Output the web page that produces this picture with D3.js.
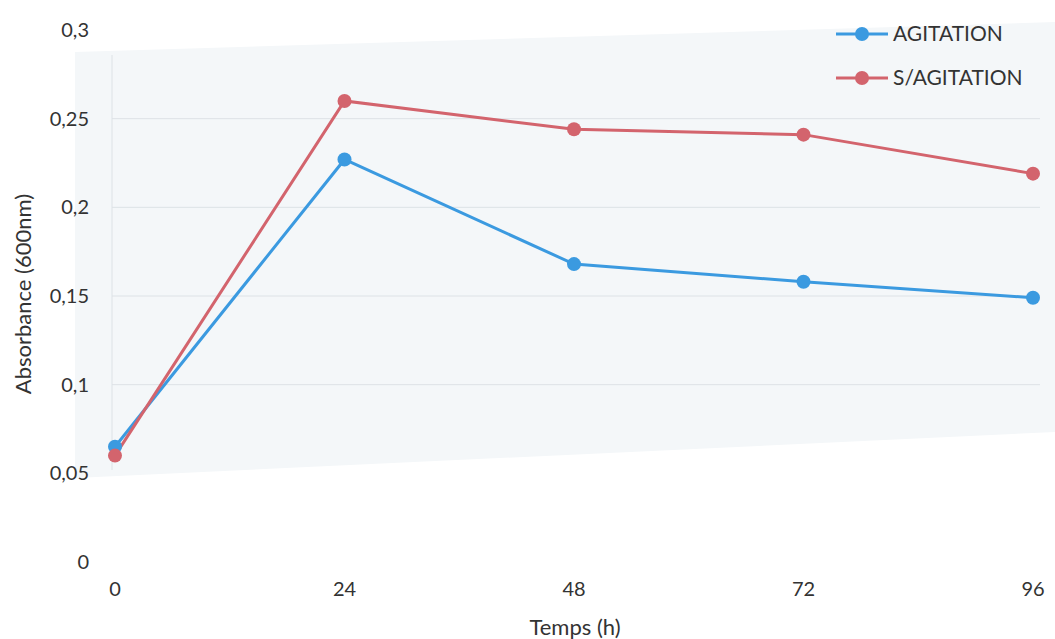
<!DOCTYPE html>
<html>
<head>
<meta charset="utf-8">
<script src="https://cdn.jsdelivr.net/npm/d3@7"></script>
<style>
  body { margin: 0; background: #fff; }
  text { font-family: Lato, "Open Sans", sans-serif; fill: #333; }
</style>
</head>
<body>
<script>
var hours = [0, 24, 48, 72, 96];
var agitation = [0.065, 0.227, 0.168, 0.158, 0.149];
var sansAgitation = [0.060, 0.260, 0.244, 0.241, 0.219];
var yTicks = [0, 0.05, 0.1, 0.15, 0.2, 0.25, 0.3];
var gridTicks = [0.1, 0.15, 0.2, 0.25];
var seriesNames = ["AGITATION", "S/AGITATION"];
var seriesColors = ["#3b9ae0", "#d3646d"];

var width = 1055, height = 639;
var svg = d3.select("body").append("svg")
  .attr("width", width)
  .attr("height", height);

var x = d3.scaleLinear().domain([0, 96]).range([115, 1033]);
var y = d3.scaleLinear().domain([0, 0.3]).range([562, 30]);

// pale scanned background area (slightly skewed like the scan)
svg.append("polygon")
  .attr("points", "75,52 1055,22 1055,432 75,478")
  .attr("fill", "#f4f7f9");

// gridlines
svg.selectAll(".grid")
  .data(gridTicks)
  .enter().append("line")
  .attr("class", "grid")
  .attr("x1", 112).attr("x2", 1040)
  .attr("y1", function(d) { return y(d); })
  .attr("y2", function(d) { return y(d); })
  .attr("stroke", "#dde2e6")
  .attr("stroke-width", 1);

svg.append("line")
  .attr("x1", 112).attr("x2", 112)
  .attr("y1", 55).attr("y2", 470)
  .attr("stroke", "#dde2e6");

// y tick labels
svg.selectAll(".ytick")
  .data(yTicks)
  .enter().append("text")
  .attr("class", "ytick")
  .attr("x", 89)
  .attr("y", function(d) { return y(d); })
  .attr("dy", "0.35em")
  .attr("text-anchor", "end")
  .style("font-size", "20px")
  .text(function(d) { return String(d).replace(".", ","); });

// x tick labels
svg.selectAll(".xtick")
  .data(hours)
  .enter().append("text")
  .attr("class", "xtick")
  .attr("x", function(d) { return x(d); })
  .attr("y", 596)
  .attr("text-anchor", "middle")
  .style("font-size", "20px")
  .text(function(d) { return d; });

// axis titles
svg.append("text")
  .attr("x", 575).attr("y", 635)
  .attr("text-anchor", "middle")
  .style("font-size", "22px")
  .text("Temps (h)");

svg.append("text")
  .attr("transform", "translate(31,294) rotate(-90)")
  .attr("text-anchor", "middle")
  .style("font-size", "22px")
  .text("Absorbance (600nm)");

// series
var allSeries = [agitation, sansAgitation];
var line = d3.line()
  .x(function(d, i) { return x(hours[i]); })
  .y(function(d) { return y(d); });

allSeries.forEach(function(values, s) {
  svg.append("path")
    .datum(values)
    .attr("d", line)
    .attr("fill", "none")
    .attr("stroke", seriesColors[s])
    .attr("stroke-width", 3);
});

// markers drawn after lines so red sits on top like the reference
allSeries.forEach(function(values, s) {
  svg.selectAll(".dot" + s)
    .data(values)
    .enter().append("circle")
    .attr("class", "dot" + s)
    .attr("cx", function(d, i) { return x(hours[i]); })
    .attr("cy", function(d) { return y(d); })
    .attr("r", 7)
    .attr("fill", seriesColors[s]);
});

// legend
var legend = svg.selectAll(".legend")
  .data(seriesNames)
  .enter().append("g")
  .attr("class", "legend")
  .attr("transform", function(d, i) { return "translate(836," + (34 + i * 44) + ")"; });

legend.append("line")
  .attr("x1", 0).attr("x2", 52)
  .attr("stroke", function(d, i) { return seriesColors[i]; })
  .attr("stroke-width", 3);

legend.append("circle")
  .attr("cx", 26).attr("r", 7)
  .attr("fill", function(d, i) { return seriesColors[i]; });

legend.append("text")
  .attr("x", 57)
  .attr("dy", "0.35em")
  .style("font-size", "21px")
  .text(function(d) { return d; });
</script>
</body>
</html>
